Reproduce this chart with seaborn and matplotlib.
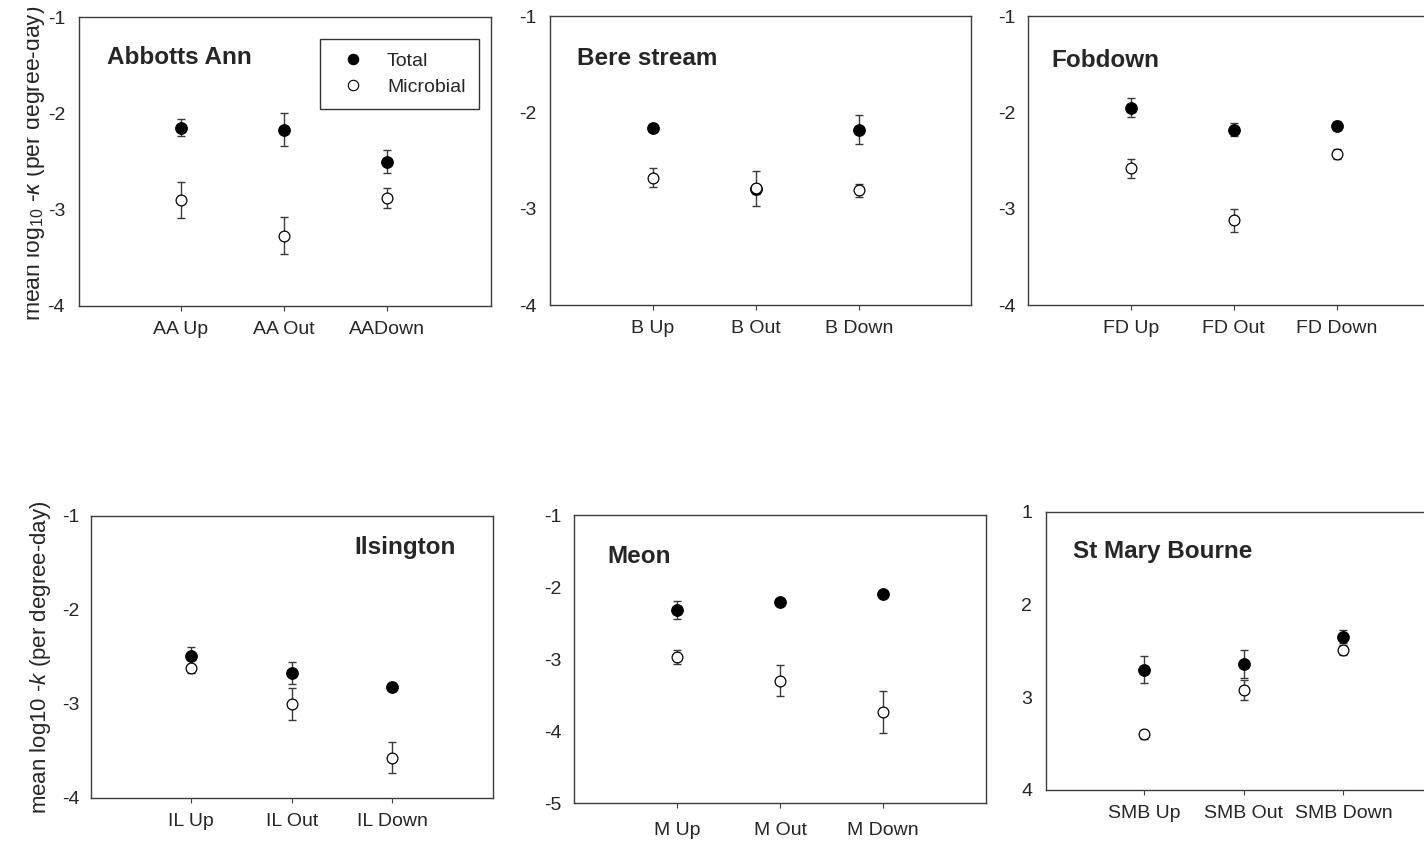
import numpy as np
import pandas as pd
import matplotlib
matplotlib.use("Agg")
import matplotlib.pyplot as plt
import seaborn as sns
from matplotlib.lines import Line2D
from matplotlib.transforms import Bbox, TransformedBbox

# ---------------- data ----------------
site_names = ["Abbotts Ann", "Bere stream", "Fobdown", "Ilsington", "Meon", "St Mary Bourne"]

aa_cats = ["AA Up", "AA Out", "AADown"]
aa_total = [-2.15, -2.17, -2.50]
aa_total_err = [0.09, 0.17, 0.12]
aa_micro = [-2.90, -3.27, -2.88]
aa_micro_err = [0.19, 0.19, 0.10]

b_cats = ["B Up", "B Out", "B Down"]
b_total = [-2.16, -2.80, -2.18]
b_total_err = [0.02, 0.05, 0.15]
b_micro = [-2.68, -2.79, -2.81]
b_micro_err = [0.10, 0.18, 0.07]

fd_cats = ["FD Up", "FD Out", "FD Down"]
fd_total = [-1.95, -2.18, -2.14]
fd_total_err = [0.10, 0.07, 0.045]
fd_micro = [-2.58, -3.12, -2.43]
fd_micro_err = [0.10, 0.12, 0.05]

il_cats = ["IL Up", "IL Out", "IL Down"]
il_total = [-2.49, -2.67, -2.82]
il_total_err = [0.10, 0.115, 0.04]
il_micro = [-2.62, -3.00, -3.57]
il_micro_err = [0.05, 0.165, 0.165]

m_cats = ["M Up", "M Out", "M Down"]
m_total = [-2.32, -2.21, -2.10]
m_total_err = [0.13, 0.02, 0.02]
m_micro = [-2.97, -3.30, -3.74]
m_micro_err = [0.10, 0.215, 0.29]

smb_cats = ["SMB Up", "SMB Out", "SMB Down"]
smb_total = [2.70, 2.64, 2.345]
smb_total_err = [0.145, 0.15, 0.07]
smb_micro = [3.40, 2.92, 2.49]
smb_micro_err = [0.05, 0.11, 0.05]

yticks_std = [-4, -3, -2, -1]
yticks_meon = [-5, -4, -3, -2, -1]
yticks_smb = [1, 2, 3, 4]

legend_labels = ["Total", "Microbial"]
ylabel_top = "mean log$_{10}$ -$k$ (per degree-day)"
ylabel_bottom = "mean log10 -$k$ (per degree-day)"

# ---------------- style ----------------
sns.set_style("white")
plt.rcParams["font.family"] = ["Liberation Sans", "DejaVu Sans"]
plt.rcParams["mathtext.fontset"] = "custom"
plt.rcParams["mathtext.rm"] = "Liberation Sans"
plt.rcParams["mathtext.it"] = "Liberation Sans:italic"
plt.rcParams["mathtext.bf"] = "Liberation Sans:bold"

W, H = 1424, 842
fig = plt.figure(figsize=(W / 100, H / 100), dpi=100)
fig.patch.set_facecolor("white")

SPINE = "#3c3c3c"
ERR = "#3a3a3a"

# layout in pixels: left, right, top, bottom, xlim, ylim, yticks, ytick pad(pt), xtick pad(pt), title x, title baseline
layout = [
    (79, 491, 17, 306, (-0.99, 3.01), (-4, -1), yticks_std, 10.0, 7.0, 107, 64),
    (550, 971, 16, 305, (-1.0, 3.09), (-4, -1), yticks_std, 9.5, 7.0, 577, 65),
    (1028, 1449, 16, 305, (-1.0, 3.09), (-4, -1), yticks_std, 9.0, 7.0, 1051, 67),
    (91, 493, 516, 798, (-0.995, 3.0), (-4, -1), yticks_std, 8.0, 7.0, 354, 554),
    (574, 986, 515, 803, (-1.0, 3.0), (-5, -1), yticks_meon, 9.0, 10.0, 607, 563),
    (1046, 1444, 512, 790, (-0.985, 3.01), (4, 1), yticks_smb, 10.0, 7.0, 1073, 558),
]

panels = [
    (aa_cats, aa_total, aa_total_err, aa_micro, aa_micro_err),
    (b_cats, b_total, b_total_err, b_micro, b_micro_err),
    (fd_cats, fd_total, fd_total_err, fd_micro, fd_micro_err),
    (il_cats, il_total, il_total_err, il_micro, il_micro_err),
    (m_cats, m_total, m_total_err, m_micro, m_micro_err),
    (smb_cats, smb_total, smb_total_err, smb_micro, smb_micro_err),
]

axes = []
for i, (lay, pdata, name) in enumerate(zip(layout, panels, site_names)):
    left, right, top, bottom, xlim, ylim, yticks, ypad, xpad, tx, tb = lay
    cats, tot, tot_e, mic, mic_e = pdata
    ax = fig.add_axes([left / W, 1 - bottom / H, (right - left) / W, (bottom - top) / H])
    axes.append(ax)
    df = pd.DataFrame({"site": cats, "total": tot, "total_err": tot_e,
                       "micro": mic, "micro_err": mic_e})
    pos = np.arange(len(df))
    # error bars
    ax.errorbar(pos, df["total"], yerr=df["total_err"], fmt="none", ecolor=ERR,
                elinewidth=1.0, capsize=2.6, capthick=1.0, zorder=2)
    ax.errorbar(pos, df["micro"], yerr=df["micro_err"], fmt="none", ecolor=ERR,
                elinewidth=1.0, capsize=2.6, capthick=1.0, zorder=2)
    # points
    sns.scatterplot(data=df, x="site", y="total", ax=ax, color="black",
                    edgecolor="black", linewidth=0.8, s=70, zorder=3, legend=False)
    sns.scatterplot(data=df, x="site", y="micro", ax=ax, color="white",
                    edgecolor="black", linewidth=0.9, s=60, zorder=4, legend=False)
    ax.set_xlim(*xlim)
    ax.set_ylim(*ylim)
    ax.set_yticks(yticks)
    ax.set_yticklabels([str(v) for v in yticks])
    ax.set_xticks(pos)
    ax.set_xticklabels(cats)
    ax.set_xlabel("")
    ax.set_ylabel("")
    ax.tick_params(axis="x", direction="out", length=3.5, width=0.8, color=SPINE,
                   labelsize=14, pad=xpad, bottom=True)
    ax.tick_params(axis="y", length=0, labelsize=14, pad=ypad, left=True)
    for sp in ax.spines.values():
        sp.set_visible(True)
        sp.set_color(SPINE)
        sp.set_linewidth(1.0)
    ax.grid(False)
    fig.text(tx / W, 1 - tb / H, name, fontsize=17.5, fontweight="bold",
             ha="left", va="baseline")

# legend in first panel
handles = [
    Line2D([], [], linestyle="none", marker="o", markersize=7.5,
           markerfacecolor="black", markeredgecolor="black", markeredgewidth=0.8),
    Line2D([], [], linestyle="none", marker="o", markersize=7.5,
           markerfacecolor="white", markeredgecolor="black", markeredgewidth=0.8),
]
leg = axes[0].legend(handles, legend_labels, loc="upper left",
                     bbox_to_anchor=(320 / W, 1 - 39 / H), bbox_transform=fig.transFigure,
                     borderaxespad=0, fontsize=14, frameon=True, fancybox=False,
                     borderpad=0.69, labelspacing=0.42, handlelength=2.0,
                     handletextpad=0.75)
leg.get_frame().set_edgecolor("black")
leg.get_frame().set_linewidth(1.0)

# y labels
t1 = fig.text(40 / W, 1 - 163 / H, ylabel_top, fontsize=16.5, rotation=90,
              rotation_mode="anchor", ha="center", va="baseline")
clip = TransformedBbox(Bbox([[27.2 / W, 0.0], [1.0, 1.0]]), fig.transFigure)
t1.set_clip_box(clip)
t1.set_clip_on(True)
fig.text(46 / W, 1 - 657 / H, ylabel_bottom, fontsize=16, rotation=90,
         rotation_mode="anchor", ha="center", va="baseline")

fig.savefig("out.png", dpi=100, facecolor="white")
